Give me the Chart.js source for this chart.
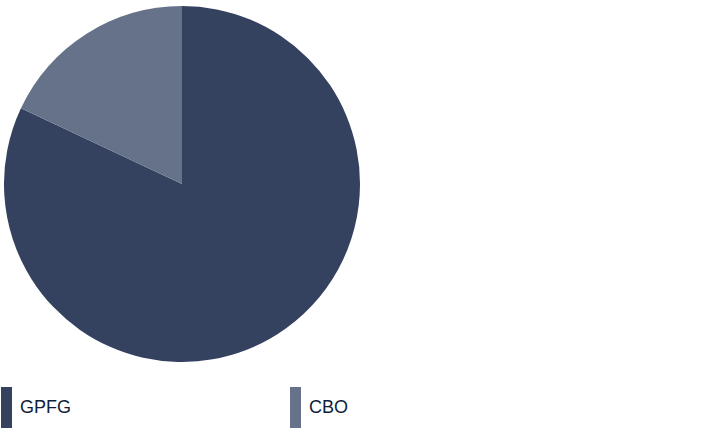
<!DOCTYPE html>
<html lang="en">
<head>
    <meta charset="UTF-8">
    <title>GPFG vs CBO</title>
    <script src="https://cdn.jsdelivr.net/npm/chart.js"></script>
    <style>
        body {
            margin: 0;
            background: #ffffff;
            font-family: Arial, "Liberation Sans", sans-serif;
        }

        .wrap {
            position: relative;
            width: 722px;
            height: 444px;
        }

        .pie-box {
            position: absolute;
            left: 4px;
            top: 6px;
            width: 356px;
            height: 356px;
        }

        .legend {
            position: absolute;
            top: 387px;
            left: 1px;
            width: 580px;
            display: flex;
        }

        .legend-item {
            width: 289px;
            display: flex;
            align-items: center;
            height: 41px;
        }

        .swatch {
            width: 11px;
            height: 41px;
            margin-right: 8px;
        }

        .legend-item span {
            font-size: 18px;
            color: #0f1d3a;
        }
    </style>
</head>
<body>
    <div class="wrap">
        <div class="pie-box"><canvas id="pie"></canvas></div>
        <div class="legend" id="legend"></div>
    </div>

    <script>
        const categories = ['GPFG', 'CBO'];
        const values = [82, 18];
        const colors = ['#344260', '#667289'];

        function renderLegend() {
            const box = document.getElementById('legend');
            categories.forEach((name, i) => {
                const item = document.createElement('div');
                item.className = 'legend-item';
                item.innerHTML = '<div class="swatch" style="background:' + colors[i] + '"></div><span>' + name + '</span>';
                box.appendChild(item);
            });
        }

        function renderChart() {
            const ctx = document.getElementById('pie').getContext('2d');
            new Chart(ctx, {
                type: 'pie',
                data: {
                    labels: categories,
                    datasets: [{
                        data: values,
                        backgroundColor: colors,
                        borderWidth: 0
                    }]
                },
                options: {
                    responsive: true,
                    maintainAspectRatio: false,
                    animation: false,
                    plugins: {
                        legend: { display: false },
                        tooltip: { enabled: false }
                    }
                }
            });
        }

        document.addEventListener('DOMContentLoaded', () => {
            renderLegend();
            renderChart();
        });
    </script>
</body>
</html>
